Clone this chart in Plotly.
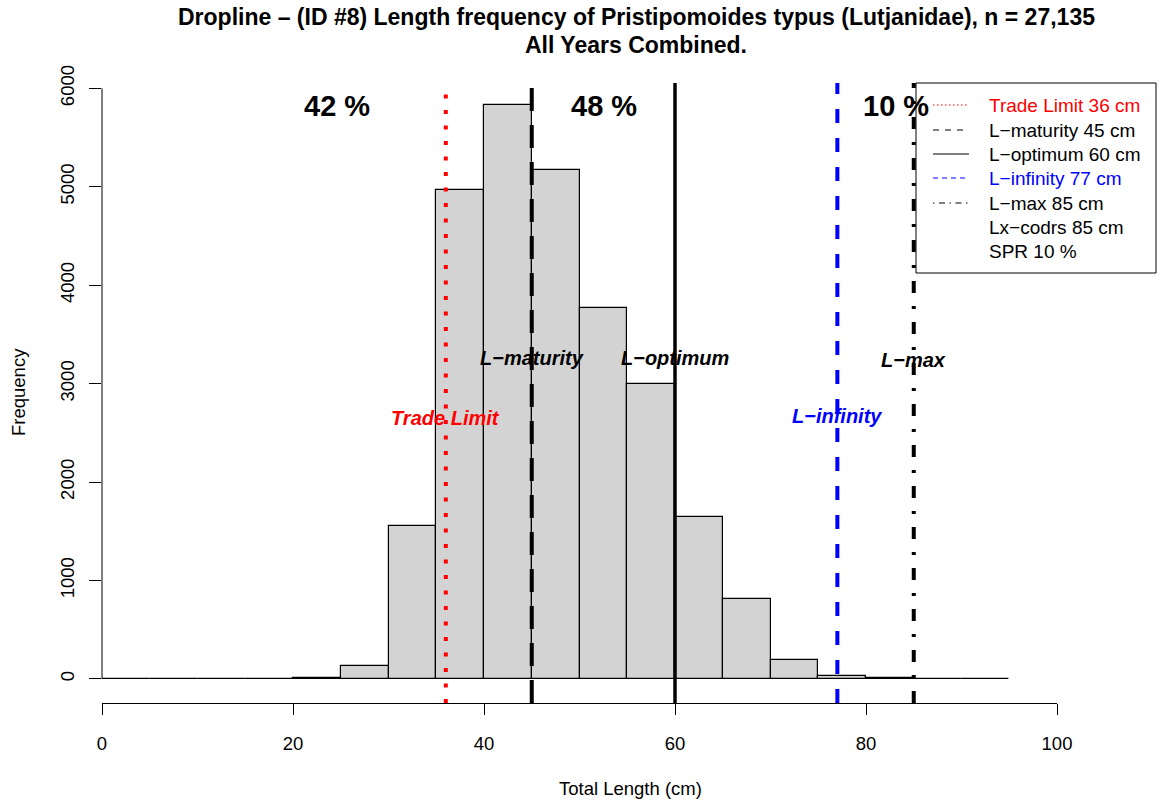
import plotly.graph_objects as go

# ---- data ----
bin_starts = [0, 5, 10, 15, 20, 25, 30, 35, 40, 45, 50, 55, 60, 65, 70, 75, 80, 85, 90]
bin_width = 5
counts = [1, 1, 2, 3, 12, 130, 1556, 4970, 5830, 5175, 3764, 3001, 1648, 814, 195, 30, 8, 2, 1]

ref_names = ["Trade Limit", "L−maturity", "L−optimum", "L−infinity", "L−max"]
ref_lengths = [36, 45, 60, 77, 85]
pct_labels = ["42 %", "48 %", "10 %"]
legend_labels = ["Trade Limit 36 cm", "L−maturity 45 cm", "L−optimum 60 cm",
                 "L−infinity 77 cm", "L−max 85 cm", "Lx−codrs 85 cm", "SPR 10 %"]
title_lines = ["Dropline – (ID #8) Length frequency of Pristipomoides typus (Lutjanidae), n = 27,135",
               "All Years Combined."]
x_ticks = [0, 20, 40, 60, 80, 100]
y_ticks = [0, 1000, 2000, 3000, 4000, 5000, 6000]

# ---- styles ----
FONT = "Liberation Sans, Arial, Helvetica, sans-serif"
ref_colors = ["#FF0000", "black", "black", "#0000FF", "black"]
ref_dash = ["4px,11.5px", "23px,14px", "solid", "14px,15px", "12px,13px,3px,13px"]
ref_width = [4, 4, 3.5, 4, 4]
ref_label_y = [2651, 3260, 3260, 2671, 3240]
ref_label_col = ["#FF0000", "black", "black", "#0000FF", "black"]
pct_x = [24.6, 52.6, 83.1]
pct_y = 5820
leg_colors = ["#FF0000", "black", "black", "#0000FF", "black", "black", "black"]
leg_dash = ["1.5px,2.5px", "6px,6px", "solid", "5px,4px", "1.5px,4.5px,6px,4.5px", None, None]

W, H = 1161, 803
L, R, T, B = 102, 1057, 83, 703


def px_x(p):
    return (p - L) / (R - L)


def px_y(p):
    return (B - p) / (B - T)


centers = [s + bin_width / 2 for s in bin_starts]

fig = go.Figure()
fig.add_trace(go.Bar(
    x=centers, y=counts, width=[bin_width] * len(counts),
    marker=dict(color="#D3D3D3", line=dict(color="black", width=1.2)),
    showlegend=False, hoverinfo="x+y"))

shapes = []
annotations = []

# reference vertical lines
for v, c, d, w in zip(ref_lengths, ref_colors, ref_dash, ref_width):
    shapes.append(dict(type="line", xref="x", yref="paper", x0=v, x1=v, y0=0, y1=1,
                       line=dict(color=c, width=w, dash=d), layer="above"))

# y axis line (0..6000 only)
shapes.append(dict(type="line", xref="paper", yref="y", x0=0, x1=0,
                   y0=y_ticks[0], y1=y_ticks[-1], line=dict(color="black", width=1)))

# labels at lines
for name, v, yv, c in zip(ref_names, ref_lengths, ref_label_y, ref_label_col):
    annotations.append(dict(x=v, y=yv, xref="x", yref="y", text=f"<b><i>{name}</i></b>",
                            showarrow=False, font=dict(family=FONT, size=20, color=c),
                            xanchor="center", yanchor="middle"))

# percent labels
for t, xv in zip(pct_labels, pct_x):
    annotations.append(dict(x=xv, y=pct_y, xref="x", yref="y", text=f"<b>{t}</b>",
                            showarrow=False, font=dict(family=FONT, size=29, color="black"),
                            xanchor="center", yanchor="middle"))

# legend box
shapes.append(dict(type="rect", xref="paper", yref="paper",
                   x0=px_x(916), x1=px_x(1156), y0=px_y(273), y1=px_y(83),
                   fillcolor="white", line=dict(color="black", width=1), layer="above"))
row_y = [105, 130, 154, 178, 203, 227, 251]
for lab, col, d, ry in zip(legend_labels, leg_colors, leg_dash, row_y):
    if d is not None:
        shapes.append(dict(type="line", xref="paper", yref="paper",
                           x0=px_x(933), x1=px_x(969), y0=px_y(ry), y1=px_y(ry),
                           line=dict(color=col, width=1.2, dash=d), layer="above"))
    annotations.append(dict(x=px_x(987), y=px_y(ry), xref="paper", yref="paper", text=lab,
                            showarrow=False, font=dict(family=FONT, size=19, color=col),
                            xanchor="left", yanchor="middle"))

# title (two lines)
for txt, ty in zip(title_lines, [17, 45]):
    annotations.append(dict(x=px_x(636), y=px_y(ty), xref="paper", yref="paper",
                            text=f"<b>{txt}</b>", showarrow=False,
                            font=dict(family=FONT, size=23, color="black"),
                            xanchor="center", yanchor="middle"))

# axis titles
annotations.append(dict(x=px_x(630), y=px_y(788), xref="paper", yref="paper",
                        text="Total Length (cm)", showarrow=False,
                        font=dict(family=FONT, size=18.5, color="black"),
                        xanchor="center", yanchor="middle"))
annotations.append(dict(x=px_x(18), y=px_y(392), xref="paper", yref="paper",
                        text="Frequency", showarrow=False, textangle=-90,
                        font=dict(family=FONT, size=18.5, color="black"),
                        xanchor="center", yanchor="middle"))

fig.update_layout(
    width=W, height=H,
    margin=dict(l=L, r=W - R, t=T, b=H - B, autoexpand=False),
    paper_bgcolor="white", plot_bgcolor="white",
    font=dict(family=FONT, size=18, color="black"),
    bargap=0,
    xaxis=dict(range=[0, 100], tickvals=x_ticks, ticks="outside", ticklen=11,
               tickwidth=1, tickcolor="black", showline=True, linecolor="black",
               linewidth=1, showgrid=False, zeroline=False,
               tickfont=dict(family=FONT, size=18.5), ticklabelstandoff=13),
    yaxis=dict(range=[-244, 6054], tickvals=y_ticks, ticks="outside", ticklen=12,
               tickwidth=1, tickcolor="black", showline=False, showgrid=False,
               zeroline=False, tickangle=-90,
               tickfont=dict(family=FONT, size=18.5), ticklabelstandoff=8),
    shapes=shapes, annotations=annotations, showlegend=False,
)

fig.write_html("out.html", config={"displayModeBar": False},
               post_script="document.body.style.margin='0';document.body.style.padding='0';")
